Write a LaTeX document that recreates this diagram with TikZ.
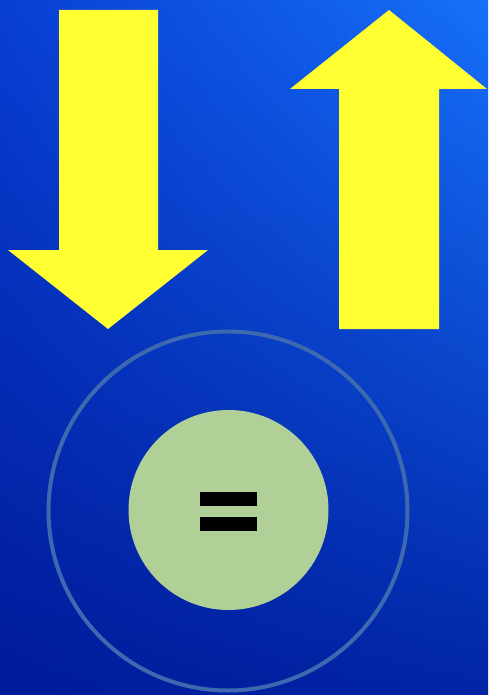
\documentclass[tikz,border=0pt]{standalone}
\usetikzlibrary{shadings}
\definecolor{bgUL}{RGB}{8,62,212}
\definecolor{bgUR}{RGB}{22,112,250}
\definecolor{bgLL}{RGB}{0,26,152}
\definecolor{bgLR}{RGB}{0,36,165}
\definecolor{arrowyellow}{RGB}{255,255,50}
\definecolor{ringblue}{RGB}{60,105,175}
\definecolor{coregreen}{RGB}{176,208,152}
\begin{document}
\begin{tikzpicture}[x=1pt,y=-1pt,
  yarrow/.style={fill=arrowyellow, draw=none},
  ring/.style={circle, draw=ringblue, line width=4pt, minimum size=359pt, inner sep=0pt},
  core/.style={circle, fill=coregreen, minimum size=200pt, inner sep=0pt},
  bar/.style={fill=black}]
\useasboundingbox (0,0) rectangle (488,695);
\shade[upper left=bgUL, upper right=bgUR, lower left=bgLL, lower right=bgLR] (0,0) rectangle (488,695);
% down arrow
\fill[yarrow] (59,10) -- (158,10) -- (158,250) -- (208,250) -- (108,329) -- (8,250) -- (59,250) -- cycle;
% up arrow
\fill[yarrow] (389,10) -- (487,89) -- (439,89) -- (439,329) -- (339,329) -- (339,89) -- (290,89) -- cycle;
\node[ring] (outer) at (228,511) {};
\node[core] (inner) at (228.5,510) {};
\fill[bar] (200,492) rectangle (257,506);
\fill[bar] (200,517) rectangle (257,531);
\end{tikzpicture}
\end{document}
